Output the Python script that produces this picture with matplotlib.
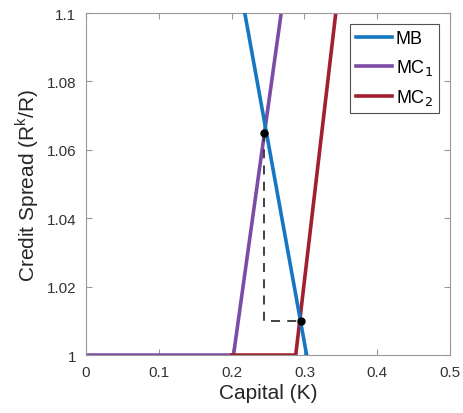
import matplotlib
matplotlib.use('Agg')
import matplotlib.pyplot as plt

plt.rcParams['font.family'] = ['Liberation Sans', 'DejaVu Sans']

# Curvas (capital, spread)
mb_k = [0.218, 0.303]
mb_s = [1.10, 1.00]
mc1_k = [0.0, 0.2025, 0.268]
mc1_s = [1.00, 1.00, 1.10]
mc2_k = [0.20, 0.288, 0.343]
mc2_s = [1.00, 1.00, 1.10]

# Equilibrios
eq_k = [0.245, 0.295]
eq_s = [1.065, 1.010]

fig = plt.figure(figsize=(4.63, 4.14), dpi=100)
ax = fig.add_axes([0.186, 0.140, 0.786, 0.826])

ax.plot(mb_k, mb_s, color='#1577C2', lw=2.6, label='MB', zorder=3)
ax.plot(mc1_k, mc1_s, color='#7B4BA6', lw=2.6, label='MC$_1$', zorder=2)
ax.plot(mc2_k, mc2_s, color='#A11F2E', lw=2.6, label='MC$_2$', zorder=2)

# Líneas punteadas entre equilibrios
ax.plot([eq_k[0], eq_k[0], eq_k[1]], [eq_s[0], eq_s[1], eq_s[1]],
        color='#333333', lw=1.3, ls=(0, (5, 4)), zorder=4)
ax.plot(eq_k, eq_s, 'o', color='black', ms=5, zorder=5)

ax.set_xlim(0, 0.5)
ax.set_ylim(1.0, 1.1)
ax.set_xticks([0, 0.1, 0.2, 0.3, 0.4, 0.5])
ax.set_xticklabels(['0', '0.1', '0.2', '0.3', '0.4', '0.5'])
ax.set_yticks([1.0, 1.02, 1.04, 1.06, 1.08, 1.1])
ax.set_yticklabels(['1', '1.02', '1.04', '1.06', '1.08', '1.1'])
ax.tick_params(direction='in', top=True, right=True, labelsize=11,
               colors='#999999', labelcolor='#333333', length=4, pad=7)
for s in ax.spines.values():
    s.set_color('#999999')
    s.set_linewidth(0.8)

ax.set_xlabel('Capital (K)', fontsize=15, color='#262626', labelpad=3)
ax.set_ylabel('Credit Spread (R$^{\\mathregular{k}}$/R)', fontsize=15,
              color='#262626', labelpad=4)

leg = ax.legend(loc='upper right', fontsize=13, fancybox=False,
                edgecolor='#262626', handlelength=2.0, handletextpad=0.2,
                borderpad=0.35, labelspacing=0.55, borderaxespad=0.6)
leg.get_frame().set_linewidth(0.8)

fig.savefig('out.png', dpi=100)
